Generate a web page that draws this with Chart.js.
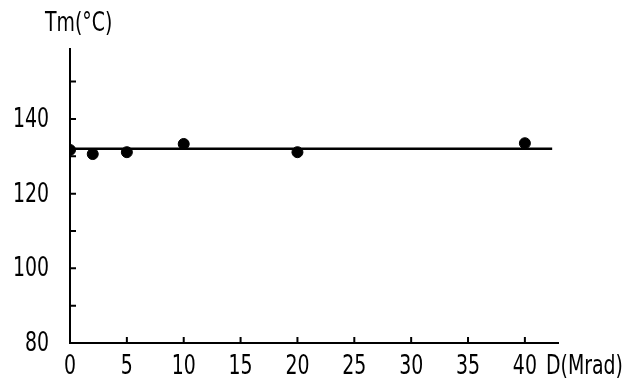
<!DOCTYPE html>
<html lang="en">
<head>
    <meta charset="UTF-8">
    <title>Tm vs dose</title>
    <script src="https://cdn.jsdelivr.net/npm/chart.js"></script>
    <style>
        body { margin: 0; background: #fff; }
    </style>
</head>
<body>
<canvas id="tmCanvas" width="623" height="381"></canvas>

<script>
    // dose in Mrad and melting temperature in deg C
    const doses = [0, 2, 5, 10, 20, 40];
    const tmValues = [131.7, 130.6, 131.1, 133.3, 131.1, 133.5];
    const fitLevel = 132;
    const fitRange = [0, 42.4];

    const xTicks = [0, 5, 10, 15, 20, 25, 30, 35, 40];
    const yTicks = [80, 90, 100, 110, 120, 130, 140, 150];
    const yLabels = [80, 100, 120, 140];

    const FONT = '27px "DejaVu Sans", sans-serif';
    const SQUEEZE = 0.7; // the original lettering is narrow

    // narrow text: squeeze horizontally around the anchor point
    function narrowText(ctx, text, x, y, align) {
        ctx.save();
        ctx.translate(x, y);
        ctx.scale(SQUEEZE, 1);
        ctx.textAlign = align;
        ctx.fillText(text, 0, 0);
        ctx.restore();
    }

    // draws the hand-drawn style axes with inward ticks
    const axesPlugin = {
        id: 'axes',
        afterDatasetsDraw(chart) {
            const ctx = chart.ctx;
            const x = chart.scales.x, y = chart.scales.y;
            const x0 = x.getPixelForValue(0);
            const y0 = y.getPixelForValue(80);
            ctx.save();
            ctx.strokeStyle = '#000';
            ctx.lineWidth = 2;
            ctx.beginPath();
            ctx.moveTo(x0, y.getPixelForValue(y.max));
            ctx.lineTo(x0, y0);
            ctx.lineTo(x.getPixelForValue(x.max), y0);
            ctx.stroke();

            ctx.beginPath();
            yTicks.forEach(v => {
                const py = y.getPixelForValue(v);
                ctx.moveTo(x0, py);
                ctx.lineTo(x0 + 6, py);
            });
            xTicks.forEach(v => {
                if (v === 0) return;
                const px = x.getPixelForValue(v);
                ctx.moveTo(px, y0);
                ctx.lineTo(px, y0 - 6);
            });
            ctx.stroke();

            ctx.fillStyle = '#000';
            ctx.font = FONT;
            ctx.textBaseline = 'middle';
            yLabels.forEach(v => narrowText(ctx, String(v), 49, y.getPixelForValue(v) + 1, 'right'));
            xTicks.forEach(v => narrowText(ctx, String(v), x.getPixelForValue(v), 367, 'center'));

            narrowText(ctx, 'Tm(°C)', 45, 24, 'left');
            narrowText(ctx, 'D(Mrad)', 546, 367, 'left');
            ctx.restore();
        }
    };

    new Chart(document.getElementById('tmCanvas'), {
        type: 'scatter',
        data: {
            datasets: [
                {
                    label: 'fit',
                    data: fitRange.map(d => ({ x: d, y: fitLevel })),
                    showLine: true,
                    borderColor: '#000',
                    borderWidth: 2.5,
                    pointRadius: 0
                },
                {
                    label: 'Tm',
                    data: doses.map((d, i) => ({ x: d, y: tmValues[i] })),
                    backgroundColor: '#000',
                    borderColor: '#000',
                    pointRadius: 5.5
                }
            ]
        },
        options: {
            responsive: false,
            animation: false,
            layout: { padding: { left: 70, right: 64, top: 48, bottom: 38 } },
            scales: {
                x: { type: 'linear', min: 0, max: 43, display: false },
                y: { type: 'linear', min: 80, max: 159, display: false }
            },
            plugins: {
                legend: { display: false },
                tooltip: { enabled: false }
            }
        },
        plugins: [axesPlugin]
    });
</script>
</body>
</html>
